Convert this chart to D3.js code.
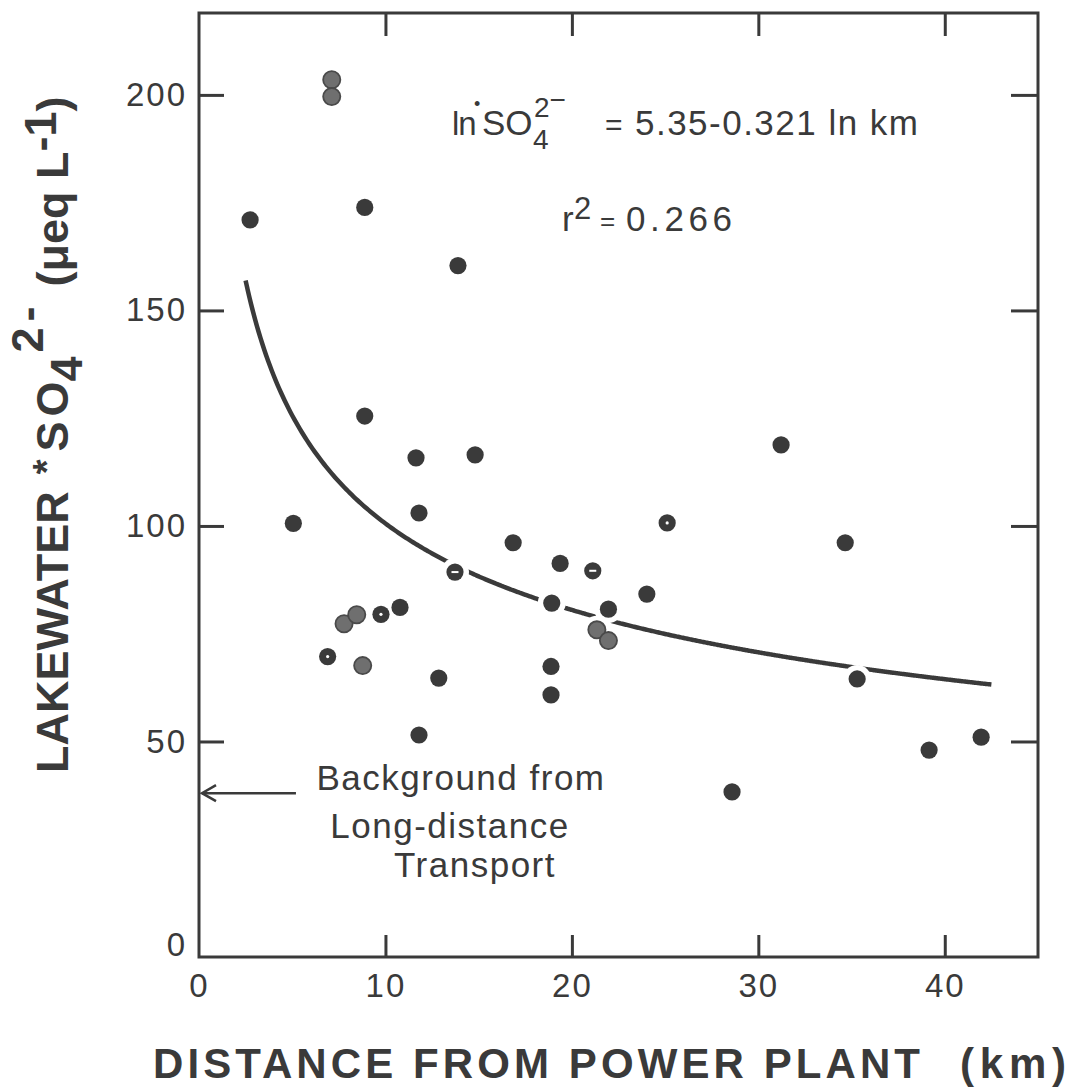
<!DOCTYPE html>
<html>
<head>
<meta charset="utf-8">
<script src="https://cdn.jsdelivr.net/npm/d3@7"></script>
<style>
  body { margin: 0; background: #fff; }
  text { font-family: "Liberation Sans", Arial, Helvetica, sans-serif; fill: #3a3a3a; }
</style>
</head>
<body>
<script>
// distance from power plant (km), one entry per lake
var distKm = [2.74, 5.06, 6.90, 7.12, 7.12, 7.78, 8.46, 8.89, 8.89, 8.78,
              9.76, 10.78, 11.64, 11.80, 11.80, 12.86, 13.89, 13.73, 14.81, 16.85,
              18.92, 18.88, 18.88, 19.37, 21.12, 21.34, 21.96, 21.96, 24.02, 25.11,
              28.59, 31.22, 34.66, 35.30, 39.16, 41.95];
// lakewater *SO4 2- (ueq/L)
var so4 = [171.0, 100.6, 69.7, 203.5, 199.6, 77.3, 79.4, 173.9, 125.5, 67.6,
           79.5, 81.1, 115.8, 103.0, 51.5, 64.7, 160.4, 89.3, 116.5, 96.1,
           82.1, 67.4, 60.8, 91.3, 89.6, 75.9, 73.4, 80.7, 84.2, 100.7,
           38.3, 118.8, 96.1, 64.5, 48.0, 51.0];
// marker look: f solid, g grey (overlapping pair), d white dot in centre, h white dash in centre
var kind = ["f", "f", "d", "g", "g", "g", "g", "f", "f", "g",
            "d", "f", "f", "f", "f", "f", "f", "h", "f", "f",
            "f", "f", "f", "f", "h", "g", "g", "f", "f", "d",
            "f", "f", "f", "f", "f", "f"];

var xTicks = [0, 10, 20, 30, 40];
var yTicks = [0, 50, 100, 150, 200];

// regression printed on the chart: ln SO4 = 5.35 - 0.321 ln km
var fitA = 5.35, fitB = -0.321;
var fitFrom = 2.5, fitTo = 42.6;

// background from long-distance transport (arrow level)
var background = 38;

var W = 1068, H = 1090;
var ink = "#3a3a3a";

var svg = d3.select("body").append("svg")
    .attr("width", W)
    .attr("height", H);

var x = d3.scaleLinear().domain([0, 45]).range([199, 1038]);
var y = d3.scaleLinear().domain([0, 219]).range([957, 13]);

//frame
svg.append("rect")
    .attr("x", x(0)).attr("y", y(219))
    .attr("width", x(45) - x(0)).attr("height", y(0) - y(219))
    .attr("fill", "none").attr("stroke", ink).attr("stroke-width", 3);

function styleAxis(g) {
    g.select(".domain").remove();
    g.selectAll(".tick line").attr("stroke", ink).attr("stroke-width", 3);
    g.selectAll(".tick text")
        .style("font-size", "33px")
        .style("letter-spacing", "2px")
        .attr("fill", "#444");
}

//inward ticks on all four sides
svg.append("g")
    .attr("transform", "translate(" + x(0) + ",0)")
    .call(d3.axisLeft(y).tickValues(yTicks).tickSize(-25).tickPadding(12))
    .call(styleAxis)
    .call(function(g) {
        g.selectAll(".tick").filter(function(d) { return d === 0; })
            .select("line").remove();
        g.selectAll(".tick").filter(function(d) { return d === 0; })
            .select("text").attr("dy", "-0.05em");
    });

svg.append("g")
    .attr("transform", "translate(0," + y(0) + ")")
    .call(d3.axisBottom(x).tickValues(xTicks).tickSize(-22).tickPadding(17))
    .call(styleAxis)
    .call(function(g) {
        g.selectAll(".tick").filter(function(d) { return d === 0; })
            .select("line").remove();
    });

svg.append("g")
    .attr("transform", "translate(0," + y(219) + ")")
    .call(d3.axisTop(x).tickValues(xTicks.slice(1)).tickSize(-23).tickFormat(""))
    .call(styleAxis);

svg.append("g")
    .attr("transform", "translate(" + x(45) + ",0)")
    .call(d3.axisRight(y).tickValues(yTicks.slice(1)).tickSize(-27).tickFormat(""))
    .call(styleAxis);

//fitted curve
var fitKm = d3.range(fitFrom, fitTo, 0.1);
var line = d3.line()
    .x(function(d) { return x(d); })
    .y(function(d) { return y(Math.exp(fitA + fitB * Math.log(d))); })
    .curve(d3.curveBasis);

svg.append("path")
    .datum(fitKm)
    .attr("d", line)
    .attr("fill", "none")
    .attr("stroke", ink)
    .attr("stroke-width", 4.5);

//points
var pts = distKm.map(function(d, i) {
    return { km: d, v: so4[i], k: kind[i] };
});

//white halo cuts the curve where a lake sits on it
svg.append("g").selectAll("circle")
    .data(pts)
    .enter()
    .append("circle")
    .attr("cx", function(d) { return x(d.km); })
    .attr("cy", function(d) { return y(d.v); })
    .attr("r", 14)
    .attr("fill", "#fff");

var dots = svg.append("g").selectAll("g")
    .data(pts)
    .enter()
    .append("g")
    .attr("transform", function(d) {
        return "translate(" + x(d.km) + "," + y(d.v) + ")";
    });

dots.append("circle")
    .attr("r", 8.6)
    .attr("fill", function(d) { return d.k === "g" ? "#6f6f6f" : ink; })
    .attr("stroke", function(d) { return d.k === "g" ? "#4a4a4a" : "none"; })
    .attr("stroke-width", 1.8);

dots.filter(function(d) { return d.k === "d"; })
    .append("circle")
    .attr("r", 1.6)
    .attr("fill", "#fff");

dots.filter(function(d) { return d.k === "h"; })
    .append("rect")
    .attr("x", -3.5).attr("y", -1)
    .attr("width", 7).attr("height", 2)
    .attr("fill", "#fff");

//equation
var eq = svg.append("g");
eq.append("text")
    .attr("x", 452).attr("y", 135)
    .style("font-size", "33px")
    .style("letter-spacing", "-1px")
    .text("ln");
eq.append("text")
    .attr("x", 474).attr("y", 110)
    .style("font-size", "18px")
    .text("\u2022");
var so = eq.append("text")
    .attr("x", 482).attr("y", 135)
    .style("font-size", "35px");
so.append("tspan").text("SO");
so.append("tspan").attr("x", 533).attr("y", 149).style("font-size", "28px").text("4");
so.append("tspan").attr("x", 534).attr("y", 117).style("font-size", "28px").text("2");
so.append("tspan").attr("dy", -8).style("font-size", "28px").text("\u2212");
eq.append("text")
    .attr("x", 605).attr("y", 135)
    .style("font-size", "30px")
    .text("=");
eq.append("text")
    .attr("x", 635).attr("y", 135)
    .attr("textLength", 283)
    .attr("lengthAdjust", "spacing")
    .style("font-size", "35px")
    .text("5.35-0.321 ln km");

var r2 = svg.append("g");
r2.append("text")
    .attr("x", 562).attr("y", 231)
    .style("font-size", "35px")
    .text("r");
r2.append("text")
    .attr("x", 574).attr("y", 219)
    .style("font-size", "31px")
    .text("2");
r2.append("text")
    .attr("x", 600).attr("y", 230)
    .style("font-size", "26px")
    .text("=");
r2.append("text")
    .attr("x", 626).attr("y", 231)
    .attr("textLength", 106)
    .attr("lengthAdjust", "spacing")
    .style("font-size", "35px")
    .text("0.266");

//background annotation
var ay = y(background);
svg.append("line")
    .attr("x1", x(0) + 3).attr("x2", x(5.2))
    .attr("y1", ay).attr("y2", ay)
    .attr("stroke", ink).attr("stroke-width", 2.5);
svg.append("path")
    .attr("d", "M" + (x(0) + 17) + "," + (ay - 8) + "L" + (x(0) + 3) + "," + ay + "L" + (x(0) + 17) + "," + (ay + 8))
    .attr("fill", "none").attr("stroke", ink).attr("stroke-width", 2.5);

var note = ["Background from", "Long-distance", "Transport"];
var noteX = [461, 450, 475];
var noteY = [790, 838, 877];
svg.append("g").selectAll("text")
    .data(note)
    .enter()
    .append("text")
    .attr("x", function(d, i) { return noteX[i]; })
    .attr("y", function(d, i) { return noteY[i]; })
    .attr("text-anchor", "middle")
    .style("font-size", "35px")
    .style("letter-spacing", "1.5px")
    .text(function(d) { return d; });

//axis titles
svg.append("text")
    .attr("x", 153).attr("y", 1078)
    .attr("textLength", 767)
    .attr("lengthAdjust", "spacing")
    .style("font-size", "42px")
    .style("font-weight", "bold")
    .text("DISTANCE FROM POWER PLANT");

svg.append("text")
    .attr("x", 960).attr("y", 1078)
    .attr("textLength", 106)
    .attr("lengthAdjust", "spacing")
    .style("font-size", "42px")
    .style("font-weight", "bold")
    .text("(km)");

var yt = svg.append("text")
    .attr("transform", "translate(68,773) rotate(-90)")
    .style("font-size", "45px")
    .style("font-weight", "bold");
yt.append("tspan").text("LAKEWATER");
yt.append("tspan").attr("dx", 17).attr("dy", -8).style("font-size", "38px").text("*");
yt.append("tspan").attr("dx", 8).attr("dy", 8).style("letter-spacing", "5px").text("SO");
yt.append("tspan").attr("dx", -5).attr("dy", 14).text("4");
yt.append("tspan").attr("dx", 4).attr("dy", -39).text("2");
yt.append("tspan").attr("dx", 6).text("-");
yt.append("tspan").attr("dx", 20).attr("dy", 25).text("(\u03bceq L");
yt.append("tspan").attr("dy", -12).text("-1");
yt.append("tspan").attr("dy", 12).text(")");
</script>
</body>
</html>
